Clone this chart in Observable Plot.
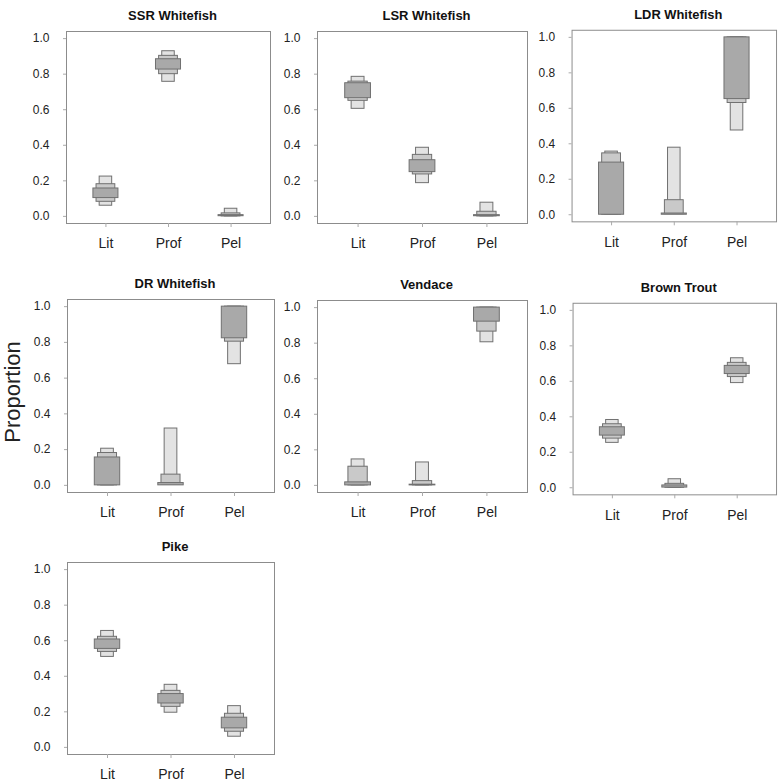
<!DOCTYPE html>
<html>
<head>
<meta charset="utf-8">
<script src="https://cdn.jsdelivr.net/npm/d3@7"></script>
<script src="https://cdn.jsdelivr.net/npm/@observablehq/plot@0.6"></script>
<style>
  html, body { margin: 0; padding: 0; background: #fff; }
  #root { position: relative; width: 782px; height: 783px; font-family: "Liberation Sans", Arial, sans-serif; }
  .panel { position: absolute; z-index: 1; }
  #ylab { position: absolute; z-index: 5; left: 13px; top: 392px; transform: translate(-50%, -50%) rotate(-90deg);
          font-size: 22px; color: #222; white-space: nowrap; font-family: "Liberation Sans", Arial, sans-serif; }
</style>
</head>
<body>
<div id="root"><div id="ylab">Proportion</div></div>
<script>
// ---- data ----
const sources = ["Lit", "Prof", "Pel"];
const speciesNames = ["SSR Whitefish", "LSR Whitefish", "LDR Whitefish", "DR Whitefish", "Vendace", "Brown Trout", "Pike"];
const levels = ["95%", "75%", "50%"];
const yTicks = [0, 0.2, 0.4, 0.6, 0.8, 1.0];
// rows per source (Lit, Prof, Pel): [lo95, hi95, lo75, hi75, lo50, hi50]
const ssrWhitefish = [[0.060, 0.224, 0.082, 0.181, 0.103, 0.157], [0.757, 0.929, 0.800, 0.903, 0.826, 0.884], [0.000, 0.043, 0.000, 0.017, 0.001, 0.007]];
const lsrWhitefish = [[0.605, 0.785, 0.650, 0.758, 0.665, 0.749], [0.187, 0.386, 0.236, 0.346, 0.249, 0.316], [0.000, 0.077, 0.000, 0.026, 0.001, 0.007]];
const ldrWhitefish = [[0.000, 0.356, 0.000, 0.346, 0.000, 0.294], [0.008, 0.378, 0.003, 0.082, 0.000, 0.007], [0.475, 1.000, 0.630, 1.000, 0.652, 1.000]];
const drWhitefish  = [[0.000, 0.205, 0.000, 0.181, 0.000, 0.156], [0.010, 0.318, 0.003, 0.060, 0.000, 0.013], [0.678, 1.000, 0.804, 1.000, 0.823, 1.000]];
const vendace      = [[0.000, 0.146, 0.000, 0.105, 0.000, 0.017], [0.000, 0.129, 0.000, 0.024, 0.000, 0.004], [0.805, 1.000, 0.865, 1.000, 0.921, 1.000]];
const brownTrout   = [[0.253, 0.382, 0.277, 0.358, 0.294, 0.341], [0.000, 0.048, 0.000, 0.022, 0.001, 0.013], [0.590, 0.730, 0.624, 0.704, 0.641, 0.687]];
const pike         = [[0.509, 0.655, 0.537, 0.622, 0.554, 0.607], [0.195, 0.352, 0.228, 0.318, 0.247, 0.300], [0.060, 0.232, 0.088, 0.189, 0.107, 0.167]];
const speciesData = [ssrWhitefish, lsrWhitefish, ldrWhitefish, drWhitefish, vendace, brownTrout, pike];

// ---- layout (frame boxes: left, top, right, bottom) ----
const frames = [
  [66, 31, 270, 223], [317, 31, 527, 223], [572, 30, 778, 223],
  [67, 299, 274, 492], [317, 300, 527, 492], [573, 303, 778, 496],
  [67, 562, 274, 754]
];
const halfWidth = {"95%": 0.10, "75%": 0.15, "50%": 0.20};
const fillOf = {"95%": "#e3e3e3", "75%": "#c9c9c9", "50%": "#a9a9a9"};

const mL = 60, mR = 6, mT = 31, mB = 29;
const root = document.getElementById("root");

speciesNames.forEach((name, k) => {
  const [fl, ft, fr, fb] = frames[k];
  const rows = [];
  levels.forEach((lev, j) => {
    speciesData[k].forEach((r, i) => {
      rows.push({level: lev, x: i + 1, lo: r[2 * j], hi: r[2 * j + 1]});
    });
  });
  const chart = Plot.plot({
    width: fr - fl + mL + mR,
    height: fb - ft + mT + mB,
    marginLeft: mL, marginRight: mR, marginTop: mT, marginBottom: mB,
    style: {fontFamily: "Liberation Sans, Arial, sans-serif", background: "transparent"},
    x: {domain: [0.37, 3.63]},
    y: {domain: [-0.04, 1.04]},
    marks: [
      Plot.rect(rows, {
        x1: d => d.x - halfWidth[d.level], x2: d => d.x + halfWidth[d.level],
        y1: "lo", y2: "hi",
        fill: d => fillOf[d.level], stroke: "#707070", strokeWidth: 1
      }),
      Plot.frame({stroke: "#8c8c8c"}),
      Plot.axisY({ticks: yTicks, tickFormat: d3.format(".1f"), tickSize: 3, tickPadding: 14,
                  fontSize: 12, fill: "#222", stroke: "#aaa", label: null}),
      Plot.axisX({ticks: [1, 2, 3], tickFormat: d => sources[d - 1], tickSize: 4, tickPadding: 11,
                  fontSize: 14, fill: "#222", stroke: "#aaa", label: null}),
      Plot.text([name], {frameAnchor: "top", dx: 4, dy: -21, text: d => d,
                         fontWeight: "bold", fontSize: 13, fill: "#111"})
    ]
  });
  const wrap = document.createElement("div");
  wrap.className = "panel";
  wrap.style.left = (fl - mL) + "px";
  wrap.style.top = (ft - mT) + "px";
  wrap.appendChild(chart);
  root.appendChild(wrap);
});
</script>
</body>
</html>
